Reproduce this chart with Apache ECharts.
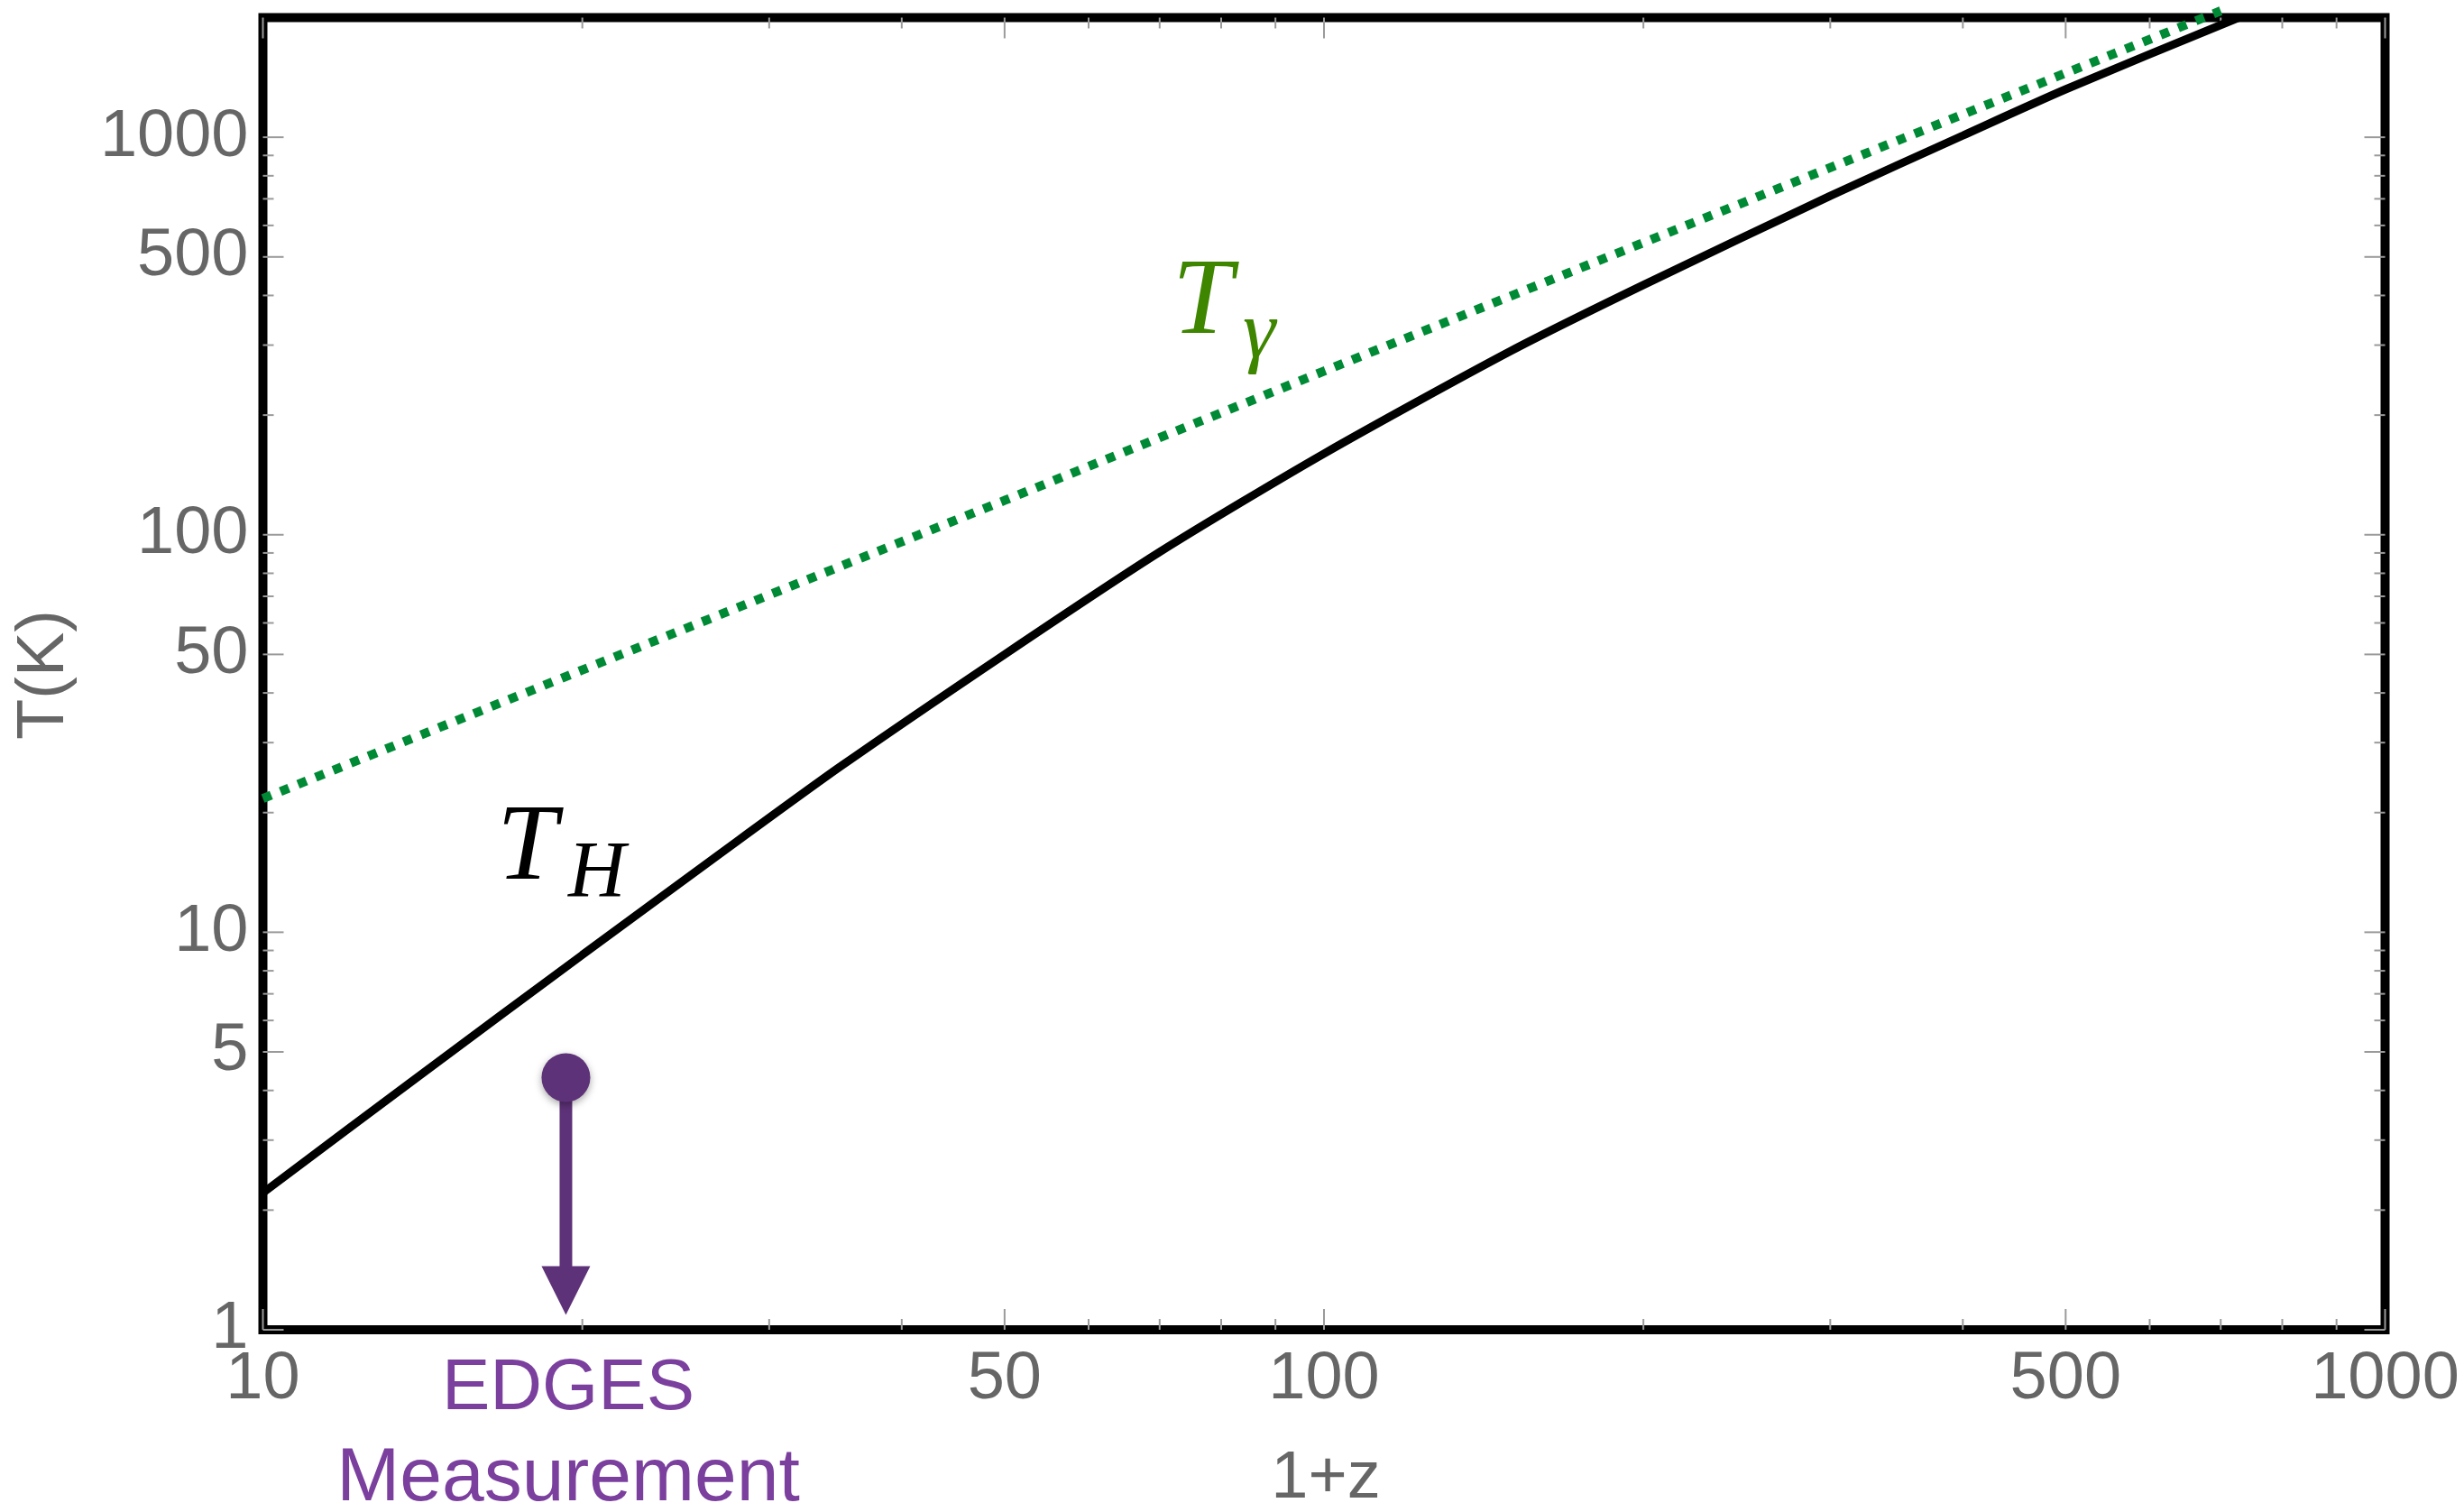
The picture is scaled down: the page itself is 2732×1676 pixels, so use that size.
<!DOCTYPE html>
<html>
<head>
<meta charset="utf-8">
<script src="https://cdn.jsdelivr.net/npm/echarts@6/dist/echarts.min.js"></script>
<style>
html, body { margin: 0; padding: 0; background: #ffffff; }
#chart { width: 2732px; height: 1676px; }
</style>
</head>
<body>
<div id="chart"></div>
<script>
// Gas (hydrogen) temperature T_H versus 1+z
const gasRedshift = [10, 14, 20, 27, 35, 50, 70, 100, 150, 200, 300, 400, 500, 728];
const gasTemp     = [2.21, 4.33, 8.77, 15.8, 26.1, 50, 90.5, 160, 290, 425, 712, 1010, 1320, 2000];

// CMB photon temperature T_gamma versus 1+z
const cmbRedshift = [10, 20, 50, 100, 200, 500, 700];
const cmbTemp     = [21.7, 45.7, 122, 258, 543, 1450, 2080];

// EDGES upper limit: marker value and arrow tip value
const edgesRedshift = [19.3];
const edgesTemp     = [4.31];
const edgesArrowTip = [1.09];

// Axis ticks and labels
const xMajorTicks = [10, 50, 100, 500, 1000];
const xMinorTicks = [20, 30, 40, 60, 70, 80, 90, 200, 300, 400, 600, 700, 800, 900];
const yMajorTicks = [1, 5, 10, 50, 100, 500, 1000];
const yMinorTicks = [2, 3, 4, 6, 7, 8, 9, 20, 30, 40, 60, 70, 80, 90, 200, 300, 400, 600, 700, 800, 900];
const xTickLabels = ['10', '50', '100', '500', '1000'];
const yTickLabels = ['1', '5', '10', '50', '100', '500', '1000'];

const X_MIN = 10, X_MAX = 1000, Y_MIN = 1, Y_MAX = 2000;

const TICK_COLOR = '#9a9a9a';
const LABEL_COLOR = '#666666';
const LABEL_FONT = '"Liberation Sans", Arial, sans-serif';
const MATH_FONT = '"Liberation Serif", "DejaVu Serif", serif';
const EDGES_DARK = '#5e3278';
const EDGES_TEXT = '#7b3f9e';

const chart = echarts.init(document.getElementById('chart'), null, { renderer: 'canvas' });

function pairs(xs, ys) { return xs.map((x, i) => [x, ys[i]]); }

const xTickData = xMajorTicks.map(v => [v, 1]).concat(xMinorTicks.map(v => [v, 0]));
const yTickData = yMajorTicks.map(v => [v, 1]).concat(yMinorTicks.map(v => [v, 0]));

// frame ticks on all four sides, pointing inward
function renderXTicks(params, api) {
  const cs = params.coordSys;
  const x = api.coord([api.value(0), Y_MIN])[0];
  const len = api.value(1) ? 23 : 12;
  const yb = cs.y + cs.height, yt = cs.y;
  const st = { stroke: TICK_COLOR, lineWidth: 2 };
  return { type: 'group', children: [
    { type: 'line', shape: { x1: x, y1: yb, x2: x, y2: yb - len }, style: st },
    { type: 'line', shape: { x1: x, y1: yt, x2: x, y2: yt + len }, style: st }
  ]};
}
function renderYTicks(params, api) {
  const cs = params.coordSys;
  const y = api.coord([X_MIN, api.value(0)])[1];
  const len = api.value(1) ? 23 : 12;
  const xl = cs.x, xr = cs.x + cs.width;
  const st = { stroke: TICK_COLOR, lineWidth: 2 };
  return { type: 'group', children: [
    { type: 'line', shape: { x1: xl, y1: y, x2: xl + len, y2: y }, style: st },
    { type: 'line', shape: { x1: xr, y1: y, x2: xr - len, y2: y }, style: st }
  ]};
}
function renderXLabels(params, api) {
  const cs = params.coordSys;
  const x = api.coord([api.value(0), Y_MIN])[0];
  return { type: 'text', x: x, y: cs.y + cs.height + 56,
    style: { text: xTickLabels[params.dataIndex], fill: LABEL_COLOR,
      font: '74px ' + LABEL_FONT, align: 'center', verticalAlign: 'middle' } };
}
function renderYLabels(params, api) {
  const cs = params.coordSys;
  const y = api.coord([X_MIN, api.value(0)])[1];
  return { type: 'text', x: cs.x - 16, y: y,
    style: { text: yTickLabels[params.dataIndex], fill: LABEL_COLOR,
      font: '74px ' + LABEL_FONT, align: 'right', verticalAlign: 'middle' } };
}
// downward arrow from the EDGES point
function renderArrow(params, api) {
  const top = api.coord([api.value(0), api.value(1)]);
  const tip = api.coord([api.value(0), api.value(2)]);
  const headH = 54, headW = 54, shaftW = 14;
  const baseY = tip[1] - headH;
  return { type: 'group', children: [
    { type: 'rect', shape: { x: top[0] - shaftW / 2, y: top[1], width: shaftW, height: baseY - top[1] + 2 },
      style: { fill: EDGES_DARK } },
    { type: 'polygon', shape: { points: [[tip[0] - headW / 2, baseY], [tip[0] + headW / 2, baseY], [tip[0], tip[1]]] },
      style: { fill: EDGES_DARK } }
  ]};
}

const option = {
  backgroundColor: '#ffffff',
  animation: false,
  grid: {
    left: 291.5, right: 87.5, top: 19.5, bottom: 202,
    show: true, borderColor: '#000000', borderWidth: 10, backgroundColor: 'transparent'
  },
  xAxis: {
    type: 'log', logBase: 10, min: X_MIN, max: X_MAX,
    axisLine: { show: false }, axisTick: { show: false },
    axisLabel: { show: false }, splitLine: { show: false }, minorTick: { show: false }
  },
  yAxis: {
    type: 'log', logBase: 10, min: Y_MIN, max: Y_MAX,
    axisLine: { show: false }, axisTick: { show: false },
    axisLabel: { show: false }, splitLine: { show: false }, minorTick: { show: false }
  },
  series: [
    { type: 'custom', name: 'xticks', renderItem: renderXTicks, data: xTickData, clip: false, silent: true, z: 1 },
    { type: 'custom', name: 'yticks', renderItem: renderYTicks, data: yTickData, clip: false, silent: true, z: 1 },
    { type: 'custom', name: 'xlabels', renderItem: renderXLabels, data: xMajorTicks.map(v => [v, 0]), clip: false, silent: true, z: 1 },
    { type: 'custom', name: 'ylabels', renderItem: renderYLabels, data: yMajorTicks.map(v => [v, 0]), clip: false, silent: true, z: 1 },
    {
      type: 'line', name: 'T_H', data: pairs(gasRedshift, gasTemp),
      showSymbol: false, smooth: 0.25, clip: false, silent: true, z: 3,
      lineStyle: { color: '#000000', width: 9 }
    },
    {
      type: 'line', name: 'T_gamma', data: pairs(cmbRedshift, cmbTemp),
      showSymbol: false, smooth: false, clip: false, silent: true, z: 4,
      lineStyle: { color: '#008a35', width: 10, type: [10, 11], cap: 'butt' }
    },
    {
      type: 'custom', name: 'edgesArrow', renderItem: renderArrow, clip: false, silent: true, z: 5,
      data: edgesRedshift.map((z, i) => [z, edgesTemp[i], edgesArrowTip[i]])
    },
    {
      type: 'scatter', name: 'EDGES', data: pairs(edgesRedshift, edgesTemp),
      symbol: 'circle', symbolSize: 54, silent: true, z: 6,
      itemStyle: { color: EDGES_DARK, opacity: 1, shadowBlur: 8, shadowColor: 'rgba(0,0,0,0.35)', shadowOffsetY: 3 }
    }
  ],
  graphic: [
    // axis titles
    { type: 'text', x: 50, y: 748, rotation: Math.PI / 2,
      style: { text: 'T(K)', fill: LABEL_COLOR, font: '74px ' + LABEL_FONT, align: 'center', verticalAlign: 'middle' } },
    { type: 'text', x: 1470, y: 1640,
      style: { text: '1+z', fill: LABEL_COLOR, font: '74px ' + LABEL_FONT, align: 'center', verticalAlign: 'middle' } },
    // EDGES caption
    { type: 'text', x: 630, y: 1540,
      style: { text: 'EDGES', fill: EDGES_TEXT, font: '80px ' + LABEL_FONT, align: 'center', verticalAlign: 'middle' } },
    { type: 'text', x: 630, y: 1640,
      style: { text: 'Measurement', fill: EDGES_TEXT, font: '84px ' + LABEL_FONT, align: 'center', verticalAlign: 'middle' } },
    // curve labels
    { type: 'text', x: 1300, y: 337,
      style: { text: 'T', fill: '#3f8600', font: 'italic 120px ' + MATH_FONT, align: 'left', verticalAlign: 'middle' } },
    { type: 'text', x: 1378, y: 372,
      style: { text: 'γ', fill: '#3f8600', font: 'italic 92px ' + MATH_FONT, align: 'left', verticalAlign: 'middle' } },
    { type: 'text', x: 551, y: 942,
      style: { text: 'T', fill: '#000000', font: 'italic 120px ' + MATH_FONT, align: 'left', verticalAlign: 'middle' } },
    { type: 'text', x: 630, y: 970,
      style: { text: 'H', fill: '#000000', font: 'italic 88px ' + MATH_FONT, align: 'left', verticalAlign: 'middle' } }
  ]
};

chart.setOption(option);
</script>
</body>
</html>
